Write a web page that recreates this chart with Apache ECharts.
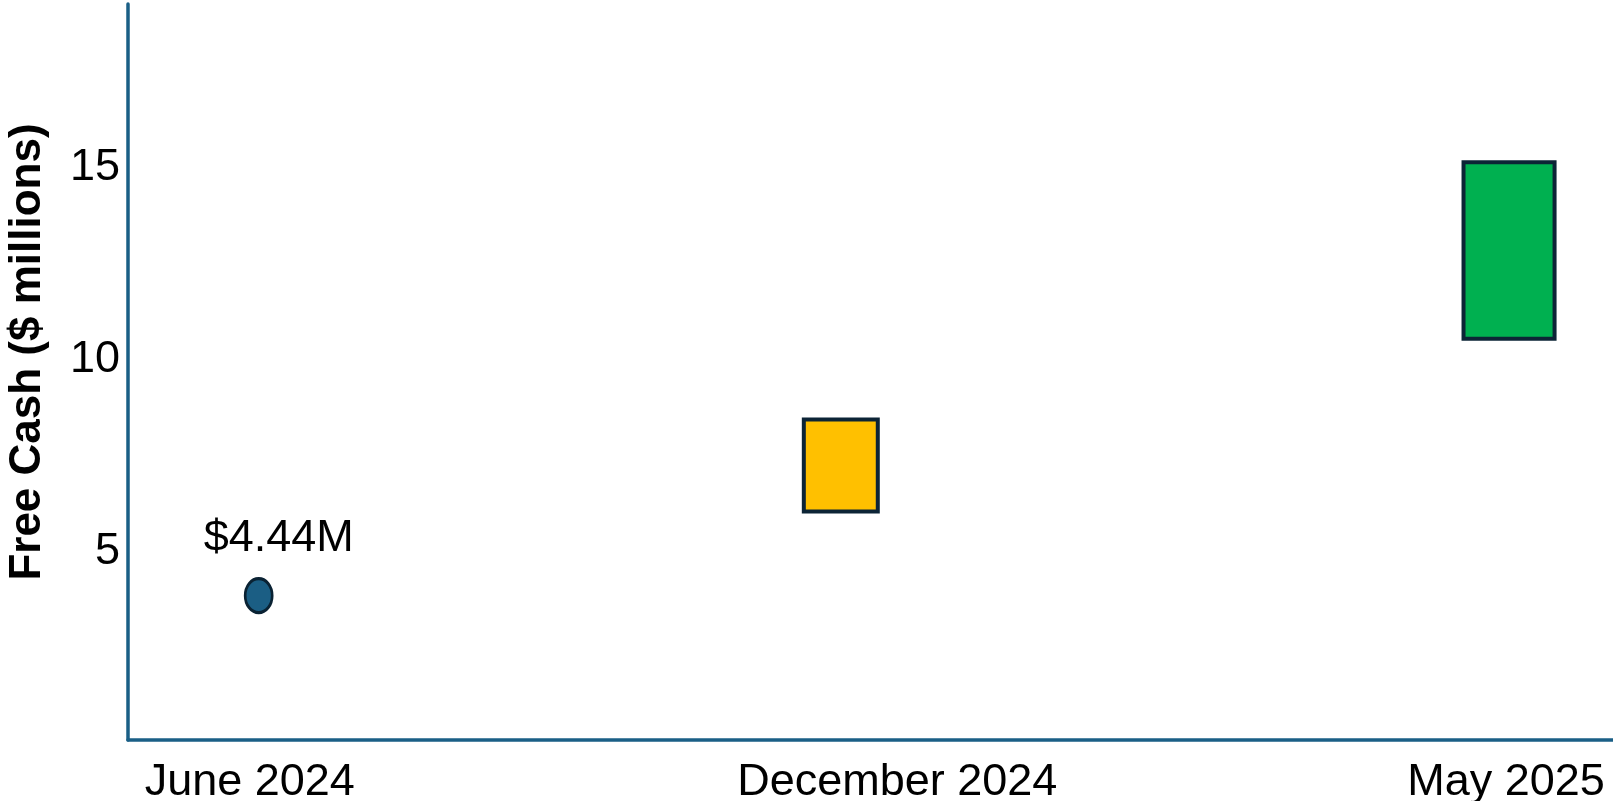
<!DOCTYPE html>
<html>
<head>
<meta charset="utf-8">
<script src="https://cdn.jsdelivr.net/npm/echarts@6/dist/echarts.min.js"></script>
<style>
html,body{margin:0;padding:0;background:#fff;}
#chart{width:1613px;height:801px;}
</style>
</head>
<body>
<div id="chart"></div>
<script>
// ---- data ----
const categories = ['June 2024', 'December 2024', 'May 2025'];
// x positions (in axis units 0..10) of category labels and marks
const categoryLabelX = [0.82, 5.18, 9.28];
const markX = [0.88, 4.80, 9.30];
// point (June 2024)
const pointValue = 3.86;
const pointLabel = '$4.44M';
// projected ranges (low/high), null where absent
const rangeLow = [null, 6.0, 10.5];
const rangeHigh = [null, 8.5, 15.2];
const yTicks = [5, 10, 15];

// ---- styles ----
const rangeColors = [null, '#FFC000', '#00B050'];
const rangeWidths = [0, 0.525, 0.64];
const axisColor = '#1a5f86';
const font = 'Liberation Sans, Arial, sans-serif';

const chart = echarts.init(document.getElementById('chart'));

const rangeData = [];
for (let i = 0; i < categories.length; i++) {
  if (rangeLow[i] != null) rangeData.push([markX[i], rangeLow[i], rangeHigh[i], i]);
}

chart.setOption({
  animation: false,
  backgroundColor: '#fff',
  grid: {left: 128, right: 0, top: 4, bottom: 61, containLabel: false, outerBoundsMode: 'none'},
  xAxis: {
    type: 'value', min: 0, max: 10,
    splitLine: {show: false},
    axisTick: {show: false},
    axisLine: {show: true, onZero: false, lineStyle: {color: axisColor, width: 3.5}},
    axisLabel: {
      customValues: categoryLabelX,
      formatter: function (v) {
        const idx = categoryLabelX.indexOf(v);
        return idx >= 0 ? categories[idx] : '';
      },
      color: '#000', fontSize: 45, fontFamily: font, margin: 20, lineHeight: 45
    }
  },
  yAxis: {
    type: 'value', min: 0.1, max: 19.27,
    name: 'Free Cash ($ millions)',
    nameLocation: 'middle', nameGap: 78,
    nameTextStyle: {color: '#000', fontSize: 44, fontWeight: 'bold', fontFamily: font, padding: [0, 0, 0, 40]},
    splitLine: {show: false},
    axisTick: {show: false},
    axisLine: {show: true, lineStyle: {color: axisColor, width: 3.5}},
    axisLabel: {customValues: yTicks, color: '#000', fontSize: 45, fontFamily: font, margin: 8}
  },
  series: [
    {
      type: 'custom',
      data: rangeData,
      encode: {x: 0, y: [1, 2]},
      renderItem: function (params, api) {
        const x = api.value(0);
        const lo = api.coord([x, api.value(1)]);
        const hi = api.coord([x, api.value(2)]);
        const idx = api.value(3);
        const w = api.size([rangeWidths[idx], 0])[0];
        return {
          type: 'rect',
          shape: {x: lo[0] - w / 2 + 2, y: hi[1] + 2, width: w - 4, height: lo[1] - hi[1] - 4},
          style: {fill: rangeColors[idx], stroke: '#0c2436', lineWidth: 4}
        };
      }
    },
    {
      type: 'scatter',
      data: [[markX[0], pointValue]],
      symbol: 'circle',
      symbolSize: [27, 34],
      itemStyle: {color: '#1b5e84', borderColor: '#0a2233', borderWidth: 3, opacity: 1},
      label: {
        show: true, position: 'top', distance: 16, offset: [20, 0],
        formatter: pointLabel,
        color: '#000', fontSize: 45, fontFamily: font
      }
    }
  ]
});
</script>
</body>
</html>
